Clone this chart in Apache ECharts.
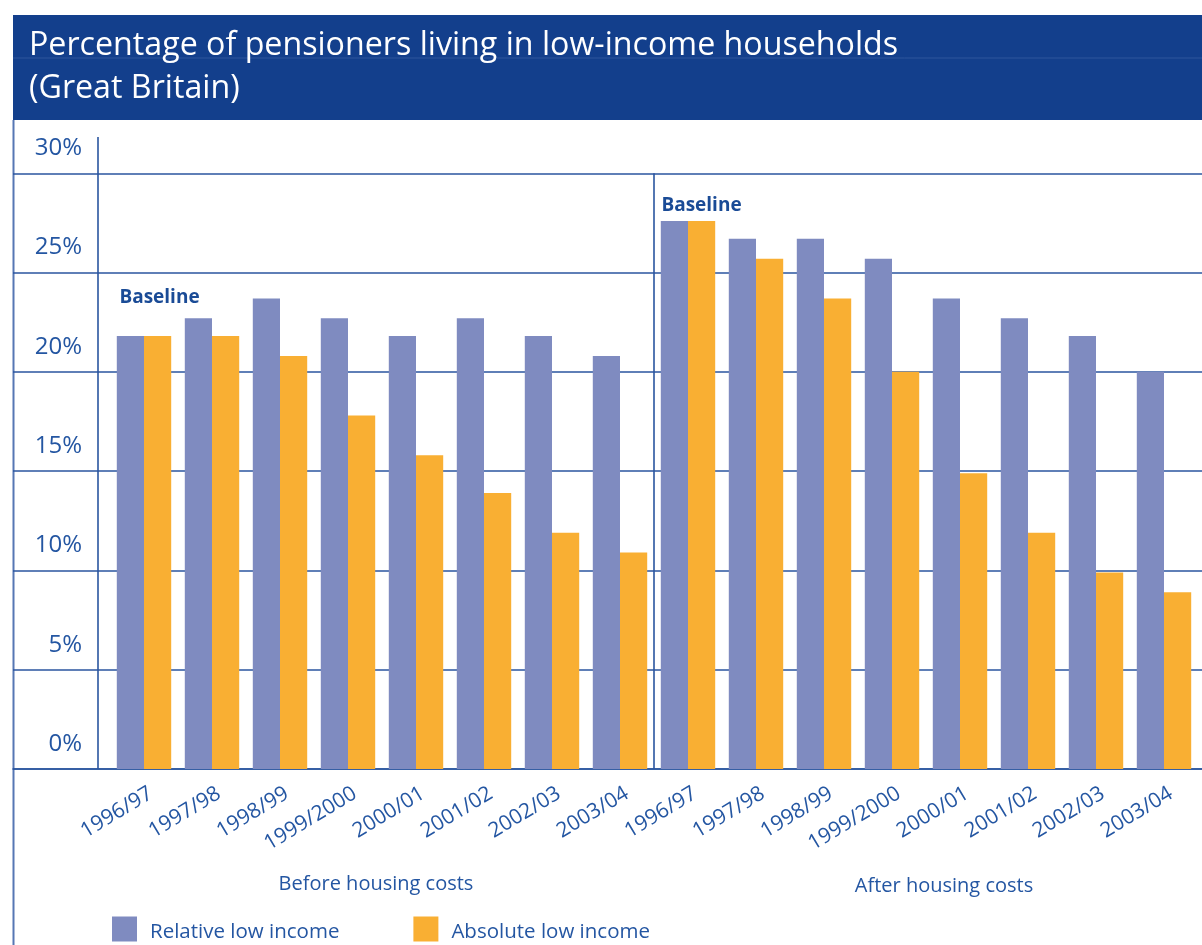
<!DOCTYPE html>
<html>
<head>
<meta charset="utf-8">
<title>Percentage of pensioners living in low-income households</title>
<script src="https://cdn.jsdelivr.net/npm/echarts@6/dist/echarts.min.js"></script>
<style>
  html, body { margin: 0; padding: 0; background: #ffffff; }
  #chart { width: 1202px; height: 945px; }
</style>
</head>
<body>
<div id="chart"></div>
<script>
// Survey years, repeated for the two housing-cost measures
const years = ['1996/97', '1997/98', '1998/99', '1999/2000', '2000/01', '2001/02', '2002/03', '2003/04'];

// Percentage of pensioners, before housing costs
const relativeBHC = [21.8, 22.7, 23.7, 22.7, 21.8, 22.7, 21.8, 20.8];
const absoluteBHC = [21.8, 21.8, 20.8, 17.8, 15.8, 13.9, 11.9, 10.9];

// Percentage of pensioners, after housing costs
const relativeAHC = [27.6, 26.7, 26.7, 25.7, 23.7, 22.7, 21.8, 20.0];
const absoluteAHC = [27.6, 25.7, 23.7, 20.0, 14.9, 11.9, 9.9, 8.9];

// Value axis ticks (percent)
const yTicks = [0, 5, 10, 15, 20, 25, 30];

const panelNames = ['Before housing costs', 'After housing costs'];
const seriesNames = ['Relative low income', 'Absolute low income'];
const baselineText = 'Baseline';

// Colours
const NAVY = '#133f8c';
const LINE = '#2a559f';
const TEXT = '#2456a2';
const LABEL_BLUE = '#1a4b96';
const REL_COLOR = '#7f8bc0';
const ABS_COLOR = '#f9af33';

// Layout
const PLOT_TOP = 173.3;
const PLOT_BOTTOM = 769;
const FRAME_LEFT = 13;
const AXIS_X = 98;
const BAR_LEFT = 110;
const BAR_RIGHT = 4;
const LABEL_SHIFT = 7;   // year labels sit slightly right of the category centre
const FONT = '"Open Sans", "Noto Sans", sans-serif';

const categories = years.concat(years);
const relativeAll = relativeBHC.concat(relativeAHC);
const absoluteAll = absoluteBHC.concat(absoluteAHC);

const baselineLabel = (distance, dx) => ({
  show: true,
  formatter: baselineText,
  position: 'top',
  distance: distance,
  align: 'left',
  offset: [dx, 0],
  color: LABEL_BLUE,
  fontFamily: FONT,
  fontWeight: 'bold',
  fontSize: 19
});

const relativeData = relativeAll.map((v, i) => {
  if (i === 0) return { value: v, label: baselineLabel(29, -11) };
  if (i === years.length) return { value: v, label: baselineLabel(6, -13) };
  return v;
});

const chart = echarts.init(document.getElementById('chart'), null, { renderer: 'canvas' });
const plotHeight = PLOT_BOTTOM - PLOT_TOP;
const nCats = categories.length;
const barAreaWidth = 1202 - BAR_LEFT - BAR_RIGHT;
const dividerX = BAR_LEFT + barAreaWidth * years.length / nCats;
const gridBase = { top: PLOT_TOP, height: plotHeight, outerBoundsMode: 'none', containLabel: false };

chart.setOption({
  animation: false,
  backgroundColor: '#ffffff',
  textStyle: { fontFamily: FONT },
  title: {
    text: 'Percentage of pensioners living in low-income households\n(Great Britain)',
    left: 29,
    top: 24,
    padding: 0,
    textStyle: {
      color: '#ffffff',
      fontFamily: FONT,
      fontWeight: 'normal',
      fontSize: 32.2,
      lineHeight: 43
    }
  },
  legend: {
    data: seriesNames,
    left: 112,
    top: 915,
    itemWidth: 25,
    itemHeight: 25,
    itemGap: 74,
    icon: 'rect',
    padding: 0,
    selectedMode: false,
    formatter: '{t|{name}}',
    textStyle: {
      color: TEXT,
      fontFamily: FONT,
      fontSize: 20.5,
      padding: [0, 0, 0, 8],
      rich: {
        t: {
          color: TEXT,
          fontFamily: FONT,
          fontSize: 20.5,
          lineHeight: 24,
          padding: [7, 0, 0, 0]
        }
      }
    }
  },
  grid: [
    // full-width frame carrying the horizontal gridlines
    Object.assign({ left: FRAME_LEFT, right: 0 }, gridBase),
    // bar area
    Object.assign({ left: BAR_LEFT, right: BAR_RIGHT }, gridBase),
    // value labels next to the vertical axis
    Object.assign({ left: AXIS_X, right: 0 }, gridBase),
    // year labels under the bars
    Object.assign({ left: BAR_LEFT + LABEL_SHIFT, right: BAR_RIGHT - LABEL_SHIFT }, gridBase)
  ],
  xAxis: [
    {
      gridIndex: 0, type: 'category', data: categories,
      axisLine: { show: true, lineStyle: { color: LINE, width: 1.6 } },
      axisTick: { show: false }, axisLabel: { show: false }, splitLine: { show: false }
    },
    {
      gridIndex: 1, type: 'category', data: categories,
      axisLine: { show: false }, axisTick: { show: false }, axisLabel: { show: false }
    },
    {
      gridIndex: 2, type: 'category', data: categories, show: false
    },
    {
      gridIndex: 3, type: 'category', data: categories,
      axisLine: { show: false }, axisTick: { show: false },
      axisLabel: {
        interval: 0,
        rotate: 31,
        margin: 23,
        color: TEXT,
        fontFamily: FONT,
        fontSize: 21
      }
    }
  ],
  yAxis: [
    {
      gridIndex: 0, type: 'value', min: yTicks[0], max: yTicks[yTicks.length - 1], interval: 5,
      axisLine: { show: false }, axisTick: { show: false }, axisLabel: { show: false },
      splitLine: { show: true, lineStyle: { color: LINE, width: 1.6 } }
    },
    {
      gridIndex: 1, type: 'value', min: yTicks[0], max: yTicks[yTicks.length - 1], interval: 5,
      show: false
    },
    {
      gridIndex: 2, type: 'value', min: yTicks[0], max: yTicks[yTicks.length - 1], interval: 5,
      axisLine: { show: false }, axisTick: { show: false }, splitLine: { show: false },
      axisLabel: {
        show: true,
        margin: 16,
        align: 'right',
        verticalAlign: 'bottom',
        lineHeight: 24,
        padding: [0, 0, 13, 0],
        color: TEXT,
        fontFamily: FONT,
        fontSize: 24,
        formatter: '{value}%'
      }
    },
    {
      gridIndex: 3, type: 'value', min: yTicks[0], max: yTicks[yTicks.length - 1], interval: 5,
      show: false
    }
  ],
  series: [
    {
      name: seriesNames[0],
      type: 'bar',
      xAxisIndex: 1,
      yAxisIndex: 1,
      data: relativeData,
      itemStyle: { color: REL_COLOR },
      barGap: '0%',
      barCategoryGap: '20%'
    },
    {
      name: seriesNames[1],
      type: 'bar',
      xAxisIndex: 1,
      yAxisIndex: 1,
      data: absoluteAll,
      itemStyle: { color: ABS_COLOR },
      barGap: '0%',
      barCategoryGap: '20%'
    }
  ],
  graphic: [
    {
      type: 'rect', z: -1,
      shape: { x: FRAME_LEFT, y: 15, width: 1202 - FRAME_LEFT, height: 105 },
      style: { fill: NAVY }
    },
    {
      type: 'line', z: 0,
      shape: { x1: FRAME_LEFT, y1: 58, x2: 1202, y2: 58 },
      style: { stroke: '#2f579c', lineWidth: 1 }
    },
    {
      type: 'line',
      shape: { x1: FRAME_LEFT + 0.5, y1: 120, x2: FRAME_LEFT + 0.5, y2: 945 },
      style: { stroke: '#5677b4', lineWidth: 2 }
    },
    {
      type: 'line',
      shape: { x1: AXIS_X, y1: 137, x2: AXIS_X, y2: PLOT_BOTTOM },
      style: { stroke: LINE, lineWidth: 1.6 }
    },
    {
      type: 'line',
      shape: { x1: dividerX, y1: PLOT_TOP, x2: dividerX, y2: PLOT_BOTTOM },
      style: { stroke: LINE, lineWidth: 1.6 }
    },
    {
      type: 'text',
      x: 376, y: 884,
      style: {
        text: panelNames[0], fill: TEXT, font: '20px ' + FONT,
        textAlign: 'center', textVerticalAlign: 'middle'
      }
    },
    {
      type: 'text',
      x: 944, y: 886,
      style: {
        text: panelNames[1], fill: TEXT, font: '20px ' + FONT,
        textAlign: 'center', textVerticalAlign: 'middle'
      }
    }
  ]
});
</script>
</body>
</html>
